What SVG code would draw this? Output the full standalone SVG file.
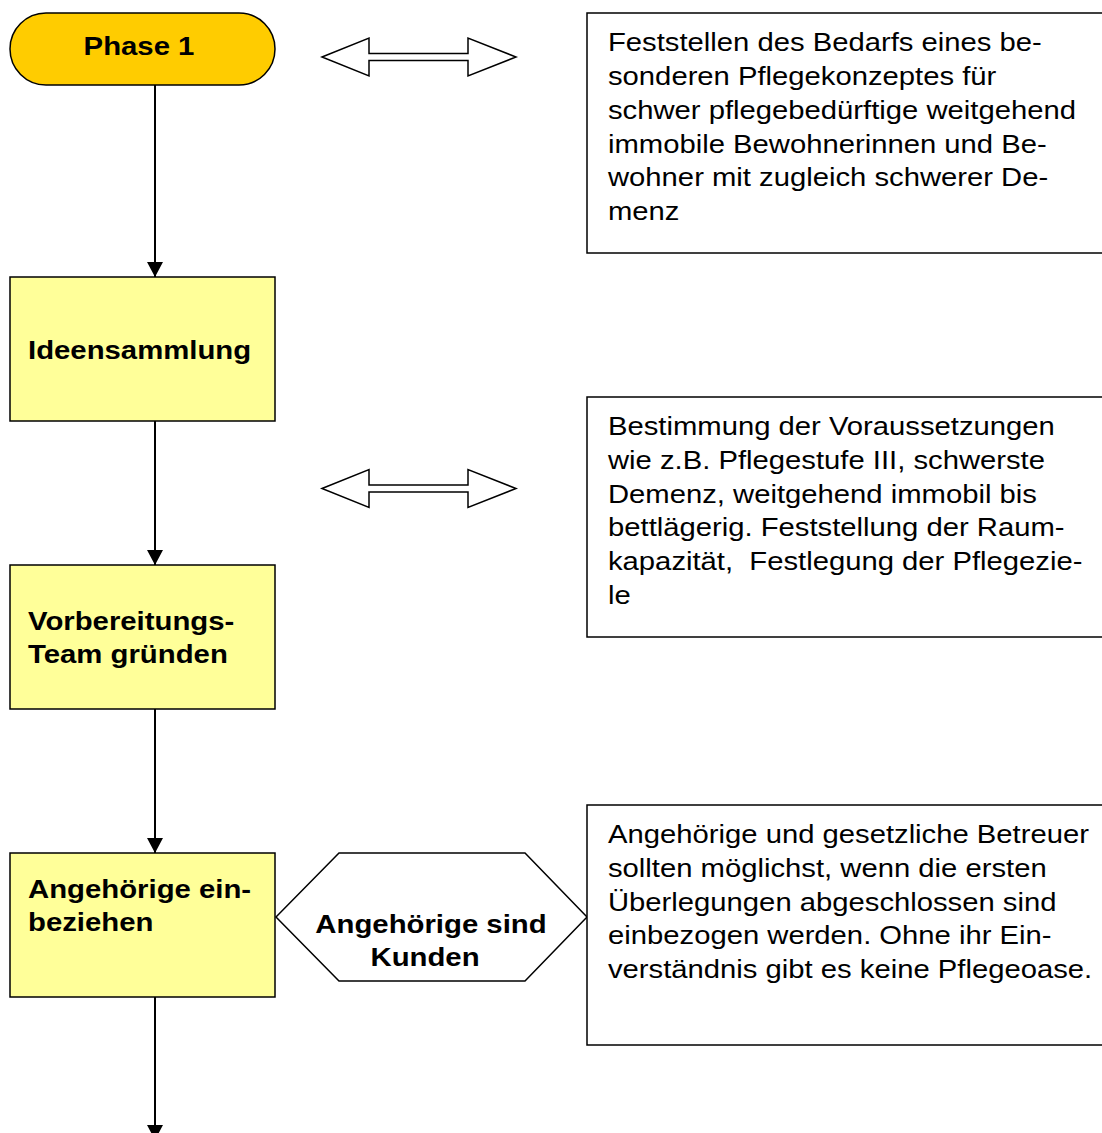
<svg xmlns="http://www.w3.org/2000/svg" width="1102" height="1133" viewBox="0 0 1102 1133">
<style>
.term{fill:#FFCC00;stroke:#000;stroke-width:1.5}
.proc{fill:#FFFF99;stroke:#000;stroke-width:1.5}
.note{fill:#fff;stroke:#000;stroke-width:1.5}
.hex{fill:#fff;stroke:#000;stroke-width:1.5}
.dbl{fill:#fff;stroke:#000;stroke-width:1.5;stroke-linejoin:miter}
.conn{fill:none;stroke:#000;stroke-width:2}
.lbl{font-family:"Liberation Sans",Arial,sans-serif;font-weight:bold;font-size:25.5px;fill:#000}
.body{font-family:"Liberation Sans",Arial,sans-serif;font-size:25px;fill:#000}
</style>
<defs>
<marker id="ah" markerWidth="16" markerHeight="16" refX="15" refY="8" orient="auto" markerUnits="userSpaceOnUse">
<path d="M0,0 L15,8 L0,16 Z" fill="#000"/>
</marker>
</defs>
<g id="connectors">
<line class="conn" x1="155" y1="85" x2="155" y2="277" marker-end="url(#ah)"/>
<line class="conn" x1="155" y1="421" x2="155" y2="565" marker-end="url(#ah)"/>
<line class="conn" x1="155" y1="709" x2="155" y2="853" marker-end="url(#ah)"/>
<line class="conn" x1="155" y1="997" x2="155" y2="1140" marker-end="url(#ah)"/>
<path id="dbl1" class="dbl" d="M322,57 L369,38 L369,53.5 L468,53.5 L468,38 L516,57 L468,76 L468,60.5 L369,60.5 L369,76 Z"/>
<path id="dbl2" class="dbl" d="M322,488.5 L369,469.5 L369,485 L468,485 L468,469.5 L516,488.5 L468,507.5 L468,492 L369,492 L369,507.5 Z"/>
</g>
<g id="phase1">
<rect class="term" x="10" y="13" width="265" height="72" rx="36" ry="36"/>
<text class="lbl" transform="translate(139,55) scale(1.15,1)" text-anchor="middle">Phase 1</text>
</g>
<g id="ideensammlung">
<rect class="proc" x="10" y="277" width="265" height="144"/>
<text class="lbl" transform="translate(28,359) scale(1.15,1)">Ideensammlung</text>
</g>
<g id="vorbereitung">
<rect class="proc" x="10" y="565" width="265" height="144"/>
<text class="lbl" transform="translate(28,630) scale(1.15,1)">Vorbereitungs-</text>
<text class="lbl" transform="translate(28,663) scale(1.15,1)">Team gründen</text>
</g>
<g id="angehoerige">
<rect class="proc" x="10" y="853" width="265" height="144"/>
<text class="lbl" transform="translate(28,898) scale(1.15,1)">Angehörige ein-</text>
<text class="lbl" transform="translate(28,931) scale(1.15,1)">beziehen</text>
</g>
<g id="kunden">
<polygon class="hex" points="276,917 339,853 525,853 587,917 525,981 339,981"/>
<text class="lbl" transform="translate(431,933) scale(1.15,1)" text-anchor="middle">Angehörige sind</text>
<text class="lbl" transform="translate(425,966) scale(1.15,1)" text-anchor="middle">Kunden</text>
</g>
<g id="note1">
<rect class="note" x="587" y="13" width="530" height="240"/>
<text class="body" transform="translate(608,51) scale(1.17,1)">Feststellen des Bedarfs eines be-</text>
<text class="body" transform="translate(608,85) scale(1.17,1)">sonderen Pflegekonzeptes für</text>
<text class="body" transform="translate(608,119) scale(1.17,1)">schwer pflegebedürftige weitgehend</text>
<text class="body" transform="translate(608,153) scale(1.17,1)">immobile Bewohnerinnen und Be-</text>
<text class="body" transform="translate(608,186) scale(1.17,1)">wohner mit zugleich schwerer De-</text>
<text class="body" transform="translate(608,220) scale(1.17,1)">menz</text>
</g>
<g id="note2">
<rect class="note" x="587" y="397" width="530" height="240"/>
<text class="body" transform="translate(608,435) scale(1.17,1)">Bestimmung der Voraussetzungen</text>
<text class="body" transform="translate(608,469) scale(1.17,1)">wie z.B. Pflegestufe III, schwerste</text>
<text class="body" transform="translate(608,503) scale(1.17,1)">Demenz, weitgehend immobil bis</text>
<text class="body" transform="translate(608,536) scale(1.17,1)">bettlägerig. Feststellung der Raum-</text>
<text class="body" transform="translate(608,570) scale(1.17,1)" xml:space="preserve">kapazität,  Festlegung der Pflegezie-</text>
<text class="body" transform="translate(608,604) scale(1.17,1)">le</text>
</g>
<g id="note3">
<rect class="note" x="587" y="805" width="530" height="240"/>
<text class="body" transform="translate(608,843) scale(1.17,1)">Angehörige und gesetzliche Betreuer</text>
<text class="body" transform="translate(608,877) scale(1.17,1)">sollten möglichst, wenn die ersten</text>
<text class="body" transform="translate(608,911) scale(1.17,1)">Überlegungen abgeschlossen sind</text>
<text class="body" transform="translate(608,944) scale(1.17,1)">einbezogen werden. Ohne ihr Ein-</text>
<text class="body" transform="translate(608,978) scale(1.17,1)">verständnis gibt es keine Pflegeoase.</text>
</g>
</svg>
